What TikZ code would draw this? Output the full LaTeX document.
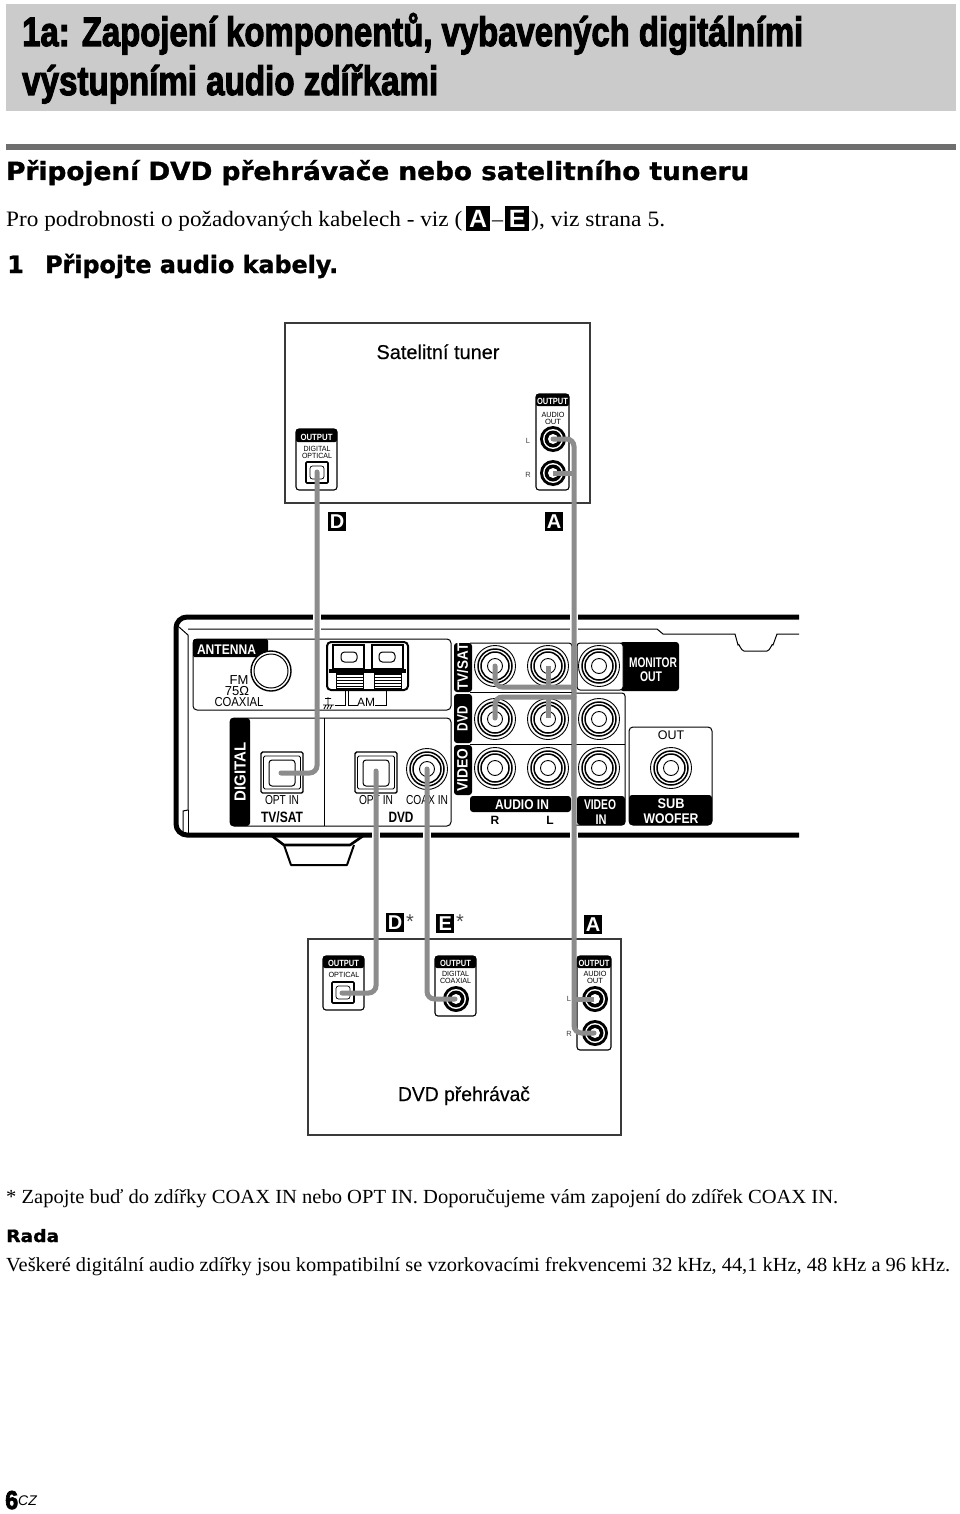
\documentclass[tikz,border=0pt]{standalone}
\usepackage{fontspec}
\usepackage{graphicx}
\setmainfont{Liberation Serif}
\newfontfamily\hvf{Liberation Sans}
\newfontfamily\hvmf[FakeBold=0.35]{Liberation Sans}
\newfontfamily\dvsf[UprightFont={* Bold},FakeBold=1.2]{DejaVu Sans}
\newfontfamily\impactf[UprightFont={* Bold},FakeBold=3]{Liberation Sans}
\newcommand\fitw[2]{\resizebox{#1pt}{\height}{#2}}
\definecolor{cablegrey}{HTML}{8C8C8C}
\definecolor{headgrey}{HTML}{CBCBCB}
\definecolor{rulegrey}{HTML}{6E6E6E}
\definecolor{framegrey}{HTML}{3A3A3A}
\tikzset{
  cable/.style={draw=cablegrey,line width=5pt,rounded corners=7.5pt,line cap=round},
  halo/.style={draw=white,line width=7.5pt},
  blk/.style={fill=black,draw=black},
  panel/.style={draw=black,line width=1pt,rounded corners=3pt},
  thinbox/.style={draw=black,line width=1.1pt,rounded corners=3pt,fill=white},
  frame/.style={draw=framegrey,line width=1.2pt},
  txt/.style={inner sep=0pt,anchor=base,font=\hvf},
  txtw/.style={txt,text=white,font=\hvf\bfseries},
  ltxt/.style={inner sep=0pt,anchor=base west},
  letter/.style={fill=black,text=white,inner sep=0pt,minimum width=18pt,minimum height=19pt,font=\hvf\bfseries\fontsize{20}{20}\selectfont,anchor=north west},
  inletter/.style={fill=black,text=white,inner sep=0pt,minimum width=24pt,minimum height=25pt,font=\hvf\bfseries\fontsize{25}{25}\selectfont,anchor=north west},
}
\newcommand\jackbig[2]{%
  \draw[line width=.9pt] (#1,#2) circle (20.5);
  \draw[line width=1.5pt] (#1,#2) circle (17);
  \draw[line width=1.5pt] (#1,#2) circle (14);
  \draw[line width=.9pt] (#1,#2) circle (7.5);
}
\newcommand\jacksmall[2]{%
  \fill[black] (#1,#2) circle (13);
  \fill[white] (#1,#2) circle (10);
  \fill[black] (#1,#2) circle (8.5);
  \fill[white] (#1,#2) circle (5);
}
\newcommand\optbig[2]{% top-left
  \draw[line width=1.4pt,rounded corners=1.5pt] (#1,#2) rectangle ++(42,41);
  \draw[line width=.9pt,rounded corners=1.5pt] (#1+2.5,#2+4) rectangle ++(37,33);
  \draw[line width=1pt,rounded corners=3pt] (#1+8,#2+8) rectangle ++(26,26);
}
\newcommand\optsmall[2]{%
  \draw[line width=1.6pt,rounded corners=1pt] (#1,#2) rectangle ++(22,21);
  \draw[line width=.7pt,rounded corners=2.5pt] (#1+4,#2+4) rectangle ++(14,13);
}
\begin{document}
\begin{tikzpicture}[x=1pt,y=-1pt]
\useasboundingbox (0,0) rectangle (960,1514);
\fill[white] (0,0) rectangle (960,1514);
% header
\fill[headgrey] (6,4) rectangle (956,111);
\fill[rulegrey] (6,144) rectangle (956,150);
\node[ltxt] (t1) at (22,46) {\fitw{781}{\impactf\fontsize{41}{41}\selectfont 1a: Zapojení komponentů, vybavených digitálními}};
\node[ltxt] (t2) at (22,95) {\fitw{416}{\impactf\fontsize{41}{41}\selectfont výstupními audio zdířkami}};
\node[ltxt] (h1) at (6,180) {\fitw{743}{\dvsf\fontsize{25}{25}\selectfont Připojení DVD přehrávače nebo satelitního tuneru}};
\node[ltxt] (b1) at (6,227) {\fitw{456}{\fontsize{22}{22}\selectfont Pro podrobnosti o požadovaných kabelech - viz (}};
\node[inletter] (bA) at (466,206) {A};
\node[ltxt] (bd) at (492,227) {\fontsize{22}{22}\selectfont –};
\node[inletter] (bE) at (505,206) {E};
\node[ltxt] (b2) at (531,227) {\fitw{134}{\fontsize{22}{22}\selectfont ), viz strana 5.}};
\node[ltxt] (s1) at (7,273) {\dvsf\fontsize{24}{24}\selectfont 1};
\node[ltxt] (s2) at (45,273) {\fitw{293}{\dvsf\fontsize{24}{24}\selectfont Připojte audio kabely.}};

% tuner
\draw[frame] (285,323) rectangle (590,503);
\node[txt] (tunerlab) at (438,359) {\fitw{123}{\hvmf\fontsize{20}{20}\selectfont Satelitní tuner}};
\draw[thinbox] (296,429) rectangle (337,490);
\fill[black,rounded corners=2pt] (296,429) rectangle (337,442);
\node[txtw] (tO1) at (316.5,440) {\fitw{32}{\fontsize{9}{9}\selectfont OUTPUT}};
\node[txt] (tD) at (317,451) {\fitw{27}{\fontsize{7.5}{7.5}\selectfont DIGITAL}};
\node[txt] (tP) at (317,458) {\fitw{30}{\fontsize{7.5}{7.5}\selectfont OPTICAL}};
\optsmall{306}{462}
\draw[thinbox] (536,394) rectangle (569,490);
\fill[black,rounded corners=2pt] (536,394) rectangle (569,406);
\node[txtw] (tO2) at (552.5,404) {\fitw{31}{\fontsize{9}{9}\selectfont OUTPUT}};
\node[txt] (tAu) at (553,417) {\fitw{23}{\fontsize{7.5}{7.5}\selectfont AUDIO}};
\node[txt] (tOu) at (553,424) {\fitw{16}{\fontsize{7.5}{7.5}\selectfont OUT}};
\jacksmall{553}{439}
\jacksmall{553}{473}
\node[txt,text=black!75] (tL) at (528,443) {\fontsize{7.5}{7.5}\selectfont L};
\node[txt,text=black!75] (tR) at (528,477) {\fontsize{7.5}{7.5}\selectfont R};
\node[letter] (lD) at (328,512) {D};
\node[letter] (lA) at (545,512) {A};

% receiver body
\draw[line width=5pt,rounded corners=11pt] (799,617) -- (176,617) -- (176,835) -- (799,835);
\draw[line width=1pt] (188,629) -- (657,629) -- (663,634) -- (735,634) -- (738,645) to[out=75,in=180] (744,651) -- (767,651) to[out=0,in=105] (773,645) -- (777,634) -- (799,634);
\draw[line width=1pt] (179,627) -- (188,635) -- (188,810) -- (183,811) -- (183,833);
\draw[line width=1pt] (188,810) -- (188,833);
% foot
\draw[line width=2.6pt,line join=round] (272,836) -- (284,845) -- (350,845) -- (363,836);
\draw[line width=2pt,line join=round] (284,845) -- (291,865) -- (347,865) -- (354,845);

% antenna panel
\draw[panel,rounded corners=4pt] (193,639) rectangle (451,710);
\fill[black,rounded corners=1.5pt] (193,639) -- (268,639) -- (268,657) -- (193,657) -- cycle;
\node[txtw] (ant) at (226.5,654) {\fitw{59}{\fontsize{14}{14}\selectfont ANTENNA}};
\draw[line width=1.4pt,fill=white] (271,671) circle (20);
\draw[line width=1pt] (271,671) circle (17);
\node[txt] (fm) at (239,684) {\fontsize{13}{13}\selectfont FM};
\node[txt] (o75) at (237,695) {\fontsize{13}{13}\selectfont 75Ω};
\node[txt] (coax) at (239,706) {\fitw{49}{\fontsize{13}{13}\selectfont COAXIAL}};
% AM terminal
\draw[line width=2pt,rounded corners=4pt] (327,642) rectangle (408,690);
\draw[line width=1.2pt] (333,645) rectangle (364,669) (372,645) rectangle (403,669);
\draw[line width=1pt,rounded corners=3.5pt] (341,652) rectangle (357,662) (379,652) rectangle (395,662);
\fill[black] (329,669) rectangle (406,673);
\fill[white] (364,673) rectangle (372,688);
\foreach \yy in {674,677,680,683,686}{
  \draw[line width=.9pt] (336,\yy) -- (363,\yy) (374,\yy) -- (401,\yy);
}
\draw[line width=1pt] (336,673) rectangle (363,688) (374,673) rectangle (401,688);
\draw[line width=.8pt] (345,690) -- (345,705) -- (335,705);
\draw[line width=.8pt] (348,690) -- (348,705) -- (358,705);
\draw[line width=.8pt] (375,705) -- (386,705) -- (386,690);
\draw[line width=.7pt] (323,705) -- (334,705) (328,697) -- (328,705) (325,698.5) -- (331,698.5) (326,705) -- (324,709) (329,705) -- (327,709) (332,705) -- (330,709);
\node[txt] (am) at (366,706) {\fontsize{12}{12}\selectfont AM};
% digital panel
\draw[panel,rounded corners=4pt] (230,718) rectangle (451,826);
\fill[black,rounded corners=3pt] (230,718) rectangle (250,826);
\draw[line width=1pt] (324,718) -- (324,826);
\node[txtw,anchor=center,rotate=90] (dig) at (240,772) {\fitw{59}{\fontsize{16}{16}\selectfont DIGITAL}};
\optbig{261}{752}
\optbig{355}{752}
\jackbig{427}{769}
\node[txt] (oi1) at (282,804) {\fitw{34}{\fontsize{13}{13}\selectfont OPT IN}};
\node[txt] (oi2) at (376,804) {\fitw{34}{\fontsize{13}{13}\selectfont OPT IN}};
\node[txt] (ci) at (427,804) {\fitw{42}{\fontsize{13}{13}\selectfont COAX IN}};
\node[txt,font=\hvf\bfseries] (ts) at (282,822) {\fitw{42}{\fontsize{15}{15}\selectfont TV/SAT}};
\node[txt,font=\hvf\bfseries] (dd) at (401,822) {\fitw{25}{\fontsize{15}{15}\selectfont DVD}};
% jack block
\fill[black,rounded corners=3pt] (454,643) rectangle (472,692);
\fill[black,rounded corners=3pt] (454,694) rectangle (472,743);
\fill[black,rounded corners=3pt] (454,745) rectangle (472,795);
\node[txtw,anchor=center,rotate=90] (ltv) at (462.5,667) {\fitw{47}{\fontsize{15}{15}\selectfont TV/SAT}};
\node[txtw,anchor=center,rotate=90] (ldv) at (462.5,718.5) {\fitw{25}{\fontsize{15}{15}\selectfont DVD}};
\node[txtw,anchor=center,rotate=90] (lvi) at (462.5,770) {\fitw{43}{\fontsize{15}{15}\selectfont VIDEO}};
\draw[line width=1pt,rounded corners=3pt] (470,643) -- (572,643) -- (572,796);
\draw[line width=1pt] (470,692.5) -- (572,692.5) (470,744) -- (572,744);
\fill[black,rounded corners=3pt] (470,796) rectangle (571,812);
\node[txtw] (audin) at (522,809) {\fitw{54}{\fontsize{14}{14}\selectfont AUDIO IN}};
\node[txt,font=\hvf\bfseries] (rr) at (495,824) {\fontsize{12}{12}\selectfont R};
\node[txt,font=\hvf\bfseries] (ll) at (550,824) {\fontsize{12}{12}\selectfont L};
% monitor
\fill[black,rounded corners=3pt] (620,642) rectangle (679,691);
\draw[line width=1pt,fill=white,rounded corners=3pt] (577,643) rectangle (623,690);
\node[txtw] (mon) at (653,667) {\fitw{48}{\fontsize{14}{14}\selectfont MONITOR}};
\node[txtw] (mou) at (651,681) {\fitw{22}{\fontsize{14}{14}\selectfont OUT}};
% video col
\draw[line width=1pt,rounded corners=3pt] (574,693) -- (625,693) -- (625,825) -- (576,825);
\draw[line width=1pt] (574,744) -- (625,744);
\fill[black,rounded corners=3pt] (577,796) rectangle (625,825);
\node[txtw] (vi1) at (600,809) {\fitw{32}{\fontsize{14}{14}\selectfont VIDEO}};
\node[txtw] (vi2) at (601,824) {\fitw{11}{\fontsize{14}{14}\selectfont IN}};
% sub
\draw[line width=1pt,rounded corners=4pt] (629,727) rectangle (712,825);
\fill[black,rounded corners=3pt] (629,795) rectangle (712,825);
\node[txt] (out) at (671,739) {\fontsize{12.5}{12.5}\selectfont OUT};
\node[txtw] (sub) at (671,808) {\fitw{27}{\fontsize{14}{14}\selectfont SUB}};
\node[txtw] (woo) at (671,823) {\fitw{55}{\fontsize{14}{14}\selectfont WOOFER}};
\foreach \cx in {495,548,599}{\foreach \cy in {666,719,768}{\jackbig{\cx}{\cy}}}
\jackbig{671}{768}

% dvd player
\draw[frame] (308,939) rectangle (621,1135);
\node[txt] (dvdlab) at (464,1101) {\fitw{132}{\hvmf\fontsize{20}{20}\selectfont DVD přehrávač}};
\node[letter] (lD2) at (386,913) {D};
\node[txt,text=black!70] (st1) at (410,928) {\fontsize{20}{20}\selectfont *};
\node[letter] (lE) at (436,914) {E};
\node[txt,text=black!70] (st2) at (460,928) {\fontsize{20}{20}\selectfont *};
\node[letter] (lA2) at (584,915) {A};
\draw[thinbox] (323,956) rectangle (364,1010);
\fill[black,rounded corners=2pt] (323,956) rectangle (364,968);
\node[txtw] (dO1) at (343.5,966) {\fitw{31}{\fontsize{9}{9}\selectfont OUTPUT}};
\node[txt] (dOp) at (344,977) {\fitw{31}{\fontsize{7.5}{7.5}\selectfont OPTICAL}};
\optsmall{332}{982}
\draw[thinbox] (435,956) rectangle (476,1016);
\fill[black,rounded corners=2pt] (435,956) rectangle (476,968);
\node[txtw] (dO2) at (455.5,966) {\fitw{31}{\fontsize{9}{9}\selectfont OUTPUT}};
\node[txt] (dDi) at (455.5,976) {\fitw{27}{\fontsize{7.5}{7.5}\selectfont DIGITAL}};
\node[txt] (dCo) at (455.5,983) {\fitw{31}{\fontsize{7.5}{7.5}\selectfont COAXIAL}};
\jacksmall{456}{999}
\draw[thinbox] (577,956) rectangle (611,1050);
\fill[black,rounded corners=2pt] (577,956) rectangle (611,968);
\node[txtw] (dO3) at (594,966) {\fitw{31}{\fontsize{9}{9}\selectfont OUTPUT}};
\node[txt] (dAu) at (595,976) {\fitw{23}{\fontsize{7.5}{7.5}\selectfont AUDIO}};
\node[txt] (dOu) at (595,983) {\fitw{16}{\fontsize{7.5}{7.5}\selectfont OUT}};
\jacksmall{595}{999}
\jacksmall{595}{1033}
\node[txt,text=black!75] (dL) at (569,1001) {\fontsize{7.5}{7.5}\selectfont L};
\node[txt,text=black!75] (dR) at (569,1036) {\fontsize{7.5}{7.5}\selectfont R};

% connection points
\coordinate (tOpt) at (317,472);
\coordinate (rOptTV) at (281,773);
\coordinate (tLj) at (553,439);
\coordinate (tRj) at (553,473);
\coordinate (rOptD) at (376,771);
\coordinate (rCoax) at (427,769);
\coordinate (dOpt) at (342,993);
\coordinate (dCoax) at (455,999);
\coordinate (dLj) at (594,999);
\coordinate (dRj) at (594,1033);
\coordinate (aTop) at (574,439);
\coordinate (aT) at (574,687);
\coordinate (aD) at (574,697);
\coordinate (rTR) at (495,666);
\coordinate (rTL) at (548,666);
\coordinate (rDR) at (495,718);
\coordinate (rDL) at (548,718);
% gaps where cables pass over the receiver outline
\foreach \gx/\gy in {317/617,317/629,574/617,574/629,574/835,376/835,427/835}{
  \draw[halo,line cap=butt] (\gx,\gy-4) -- (\gx,\gy+4);
}
% cables
\draw[cable] (tOpt) -- (tOpt |- rOptTV) -- (rOptTV);
\draw[cable] (tLj) -- (aTop) -- (dRj -| aTop) -- (dRj);
\draw[cable,line cap=butt] (tRj) -- (tRj -| aTop);
\draw[cable,line cap=butt] (dLj) -- (dLj -| aTop);
\draw[cable] (aT) -- (rTR |- aT) -- (rTR);
\draw[cable,line cap=butt] (rTL) -- (rTL |- aT);
\draw[cable] (aD) -- (rDR |- aD) -- (rDR);
\draw[cable,line cap=butt] (rDL) -- (rDL |- aD);
\draw[cable] (rOptD) -- (rOptD |- dOpt) -- (dOpt);
\draw[cable] (rCoax) -- (rCoax |- dCoax) -- (dCoax);

% footer text
\node[ltxt] (f1) at (6,1203) {\fitw{832}{\fontsize{20}{20}\selectfont * Zapojte buď do zdířky COAX IN nebo OPT IN. Doporučujeme vám zapojení do zdířek COAX IN.}};
\node[ltxt] (f2) at (6,1242) {\fitw{53}{\dvsf\fontsize{17}{17}\selectfont Rada}};
\node[ltxt] (f3) at (6,1271) {\fitw{944}{\fontsize{20}{20}\selectfont Veškeré digitální audio zdířky jsou kompatibilní se vzorkovacími frekvencemi 32 kHz, 44,1 kHz, 48 kHz a 96 kHz.}};
\node[ltxt] (pn) at (5,1509) {\fitw{13}{\impactf\fontsize{26}{26}\selectfont 6}};
\node[ltxt] (cz) at (18,1505) {\hvf\itshape\fontsize{14}{14}\selectfont CZ};
\end{tikzpicture}
\end{document}
